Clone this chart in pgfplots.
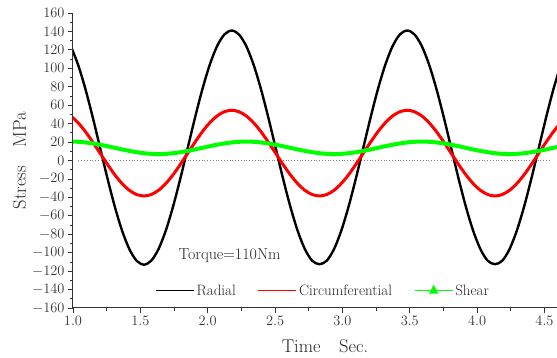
\documentclass[border=0pt]{standalone}
\usepackage{pgfplots}
\usepackage{pgfplotstable}
\pgfplotsset{compat=1.18}
\pgfplotstableread{
x r c s
0.9836 124.0 48.3 20.5
1.0379 103.8 40.9 20.3
1.0922 77.5 31.3 19.6
1.1465 46.9 20.0 18.5
1.2007 14.0 8.0 17.1
1.2550 -18.9 -4.0 15.5
1.3093 -49.5 -15.3 13.75
1.3636 -75.8 -24.9 12.0
1.4179 -96.0 -32.3 10.4
1.4722 -108.7 -36.9 9.0
1.5265 -113.0 -38.5 7.9
1.5808 -108.7 -36.9 7.2
1.6351 -96.0 -32.3 7.0
1.6894 -75.8 -24.9 7.2
1.7437 -49.5 -15.3 7.9
1.7980 -18.9 -4.0 9.0
1.8522 14.0 8.0 10.4
1.9065 46.9 20.0 12.0
1.9608 77.5 31.3 13.75
2.0151 103.8 40.9 15.5
2.0694 124.0 48.3 17.1
2.1237 136.7 52.9 18.5
2.1780 141.0 54.5 19.6
2.2323 136.7 52.9 20.3
2.2866 124.0 48.3 20.5
2.3409 103.8 40.9 20.3
2.3952 77.5 31.3 19.6
2.4495 46.9 20.0 18.5
2.5038 14.0 8.0 17.1
2.5580 -18.9 -4.0 15.5
2.6123 -49.5 -15.3 13.75
2.6666 -75.8 -24.9 12.0
2.7209 -96.0 -32.3 10.4
2.7752 -108.7 -36.9 9.0
2.8295 -112.5 -38.5 7.9
2.8838 -108.7 -36.9 7.2
2.9381 -96.0 -32.3 7.0
2.9924 -75.8 -24.9 7.2
3.0467 -49.5 -15.3 7.9
3.1010 -18.9 -4.0 9.0
3.1553 14.0 8.0 10.4
3.2095 46.9 20.0 12.0
3.2638 77.5 31.3 13.75
3.3181 103.8 40.9 15.5
3.3724 124.0 48.3 17.1
3.4267 136.7 52.9 18.5
3.4810 141.0 54.5 19.6
3.5353 136.7 52.9 20.3
3.5896 124.0 48.3 20.5
3.6439 103.8 40.9 20.3
3.6982 77.5 31.3 19.6
3.7525 46.9 20.0 18.5
3.8068 14.0 8.0 17.1
3.8610 -18.9 -4.0 15.5
3.9153 -49.5 -15.3 13.75
3.9696 -75.8 -24.9 12.0
4.0239 -96.0 -32.3 10.4
4.0782 -108.7 -36.9 9.0
4.1325 -112.5 -38.5 7.9
4.1868 -108.7 -36.9 7.2
4.2411 -96.0 -32.3 7.0
4.2954 -75.8 -24.9 7.2
4.3497 -49.5 -15.3 7.9
4.4040 -18.9 -4.0 9.0
4.4583 14.0 8.0 10.4
4.5125 46.9 20.0 12.0
4.5668 77.5 31.3 13.75
4.6211 103.8 40.9 15.5
}\datatab
\definecolor{brightgreen}{RGB}{0,255,0}
\definecolor{brightred}{RGB}{255,0,0}
\begin{document}
\begin{tikzpicture}
\begin{axis}[
  name=ax,
  width=484pt, height=295pt, scale only axis,
  xmin=1, xmax=4.593, ymin=-160, ymax=160,
  axis lines=left,
  axis line style={-, line width=1pt, black!80},
  xtick={1.0,1.5,...,4.5},
  ytick={-160,-140,...,160},
  minor x tick num=1, minor y tick num=1,
  tick align=outside,
  major tick length=5pt, minor tick length=3pt,
  every tick/.style={black!80, line width=0.8pt},
  tick label style={font=\fontsize{14.5}{17}\selectfont, text=black!80},
  xticklabel style={/pgf/number format/fixed, /pgf/number format/fixed zerofill, /pgf/number format/precision=1},
  xlabel={Time\quad Sec.},
  ylabel={Stress\quad MPa},
  label style={font=\fontsize{18.5}{21}\selectfont, text=black!85},
  xlabel style={xshift=10pt, yshift=-7pt},
  ylabel style={yshift=-1pt},
  legend style={at={(rel axis cs:0.517,0.059)}, anchor=center, draw=none, fill=none,
    font=\fontsize{15}{18}\selectfont, text=black!85, legend columns=3,
    /tikz/every even column/.append style={column sep=20pt}},
  legend image code/.code={\draw[#1, line width=1.2pt] (0pt,0pt) -- (38pt,0pt);},
]
\addplot[gray, dotted, line width=0.8pt, forget plot] coordinates {(1.04,0) (4.55,0)};
\addplot[black, line width=2.4pt, smooth] table[x=x, y=r] {\datatab};
\addlegendentry{Radial}
\addplot[brightred, line width=3pt, smooth] table[x=x, y=c] {\datatab};
\addlegendentry{Circumferential}
\addplot[brightgreen, line width=4pt, smooth,
  legend image code/.code={\draw[brightgreen, line width=1.2pt] (0pt,0pt) -- (38pt,0pt);
    \fill[brightgreen] (19pt,1.6pt) -- (17.6pt,-1.1pt) -- (20.4pt,-1.1pt) -- cycle;}] table[x=x, y=s] {\datatab};
\addlegendentry{Shear}
\node[font=\fontsize{16}{19}\selectfont, text=black!85] at (axis cs:2.162,-103.6) {Torque=110Nm};
\end{axis}
\pgfresetboundingbox
\useasboundingbox ([xshift=-73pt,yshift=13pt]ax.north west) rectangle ([yshift=-50pt]ax.south east);
\end{tikzpicture}
\end{document}
